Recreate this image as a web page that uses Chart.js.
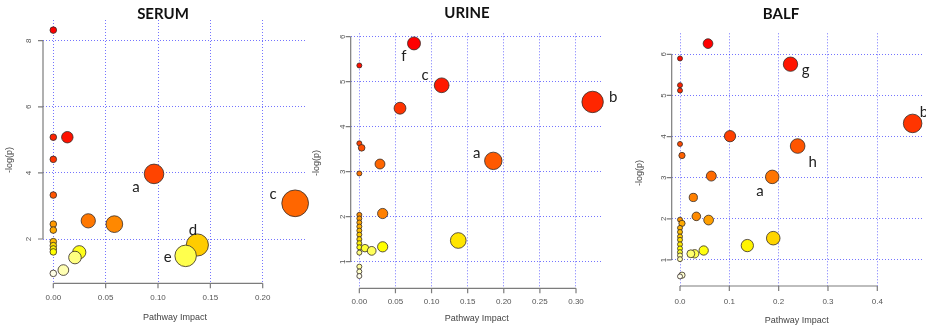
<!DOCTYPE html>
<html>
<head>
<meta charset="utf-8">
<script src="https://cdn.jsdelivr.net/npm/chart.js@4.4.1/dist/chart.umd.min.js"></script>
<style>
  html, body { margin: 0; padding: 0; background: #fff; }
  #wrap { position: relative; width: 926px; height: 331px; overflow: hidden; background: #fff; }
  #wrap canvas { position: absolute; top: 0; }
</style>
</head>
<body>
<div id="wrap">
  <canvas id="serum" width="310" height="331" style="left:0px"></canvas>
  <canvas id="urine" width="310" height="331" style="left:310px"></canvas>
  <canvas id="balf" width="306" height="331" style="left:620px"></canvas>
</div>
<script>
// ---- Pathway analysis results: impact (x) and -log(p) (y), ordered by p-value ----

// SERUM
const serumImpact = [0, 0.0134, 0, 0, 0.0962, 0, 0.231, 0.0334, 0.0583, 0, 0, 0,
  0.1376, 0, 0, 0, 0.0248, 0.1264, 0.0207, 0.0096, 0];
const serumLogP = [8.32, 5.08, 5.08, 4.41, 3.97, 3.33, 3.08, 2.55, 2.45, 2.45, 2.27, 1.92,
  1.82, 1.80, 1.70, 1.61, 1.60, 1.49, 1.44, 1.06, 0.96];
const serumTags = ['', '', '', '', 'a', '', 'c', '', '', '', '', '',
  'd', '', '', '', '', 'e', '', '', ''];
const serumXTicks = [0, 0.05, 0.10, 0.15, 0.20];
const serumXTickLabels = ['0.00', '0.05', '0.10', '0.15', '0.20'];
const serumYTicks = [2, 4, 6, 8];

// URINE
const urineImpact = [0.0757, 0, 0.114, 0.323, 0.0563, 0, 0.0032, 0.1855, 0.0286, 0,
  0.0323, 0, 0, 0, 0, 0, 0, 0, 0.137, 0, 0.0323, 0, 0.0078, 0.0171, 0, 0, 0, 0];
const urineLogP = [5.85, 5.36, 4.92, 4.55, 4.41, 3.63, 3.53, 3.24, 3.17, 2.96,
  2.07, 2.04, 1.96, 1.87, 1.78, 1.69, 1.60, 1.50, 1.47, 1.41, 1.33, 1.32, 1.30, 1.24, 1.20,
  0.89, 0.78, 0.68];
const urineTags = ['f', '', 'c', 'b', '', '', '', 'a', '', '',
  '', '', '', '', '', '', '', '', '', '', '', '', '', '', '', '', '', ''];
const urineXTicks = [0, 0.05, 0.10, 0.15, 0.20, 0.25, 0.30];
const urineXTickLabels = ['0.00', '0.05', '0.10', '0.15', '0.20', '0.25', '0.30'];
const urineYTicks = [1, 2, 3, 4, 5, 6];

// BALF
const balfImpact = [0.0568, 0, 0.224, 0, 0, 0.4716, 0.1014, 0, 0.2385, 0.004,
  0.0635, 0.187, 0.027, 0.0331, 0, 0.058, 0.004, 0, 0, 0, 0.189, 0, 0, 0.1365, 0,
  0.048, 0, 0.0297, 0.022, 0, 0, 0.004, 0];
const balfLogP = [6.26, 5.90, 5.76, 5.25, 5.12, 4.32, 4.01, 3.82, 3.77, 3.54,
  3.04, 3.02, 2.52, 2.06, 1.98, 1.97, 1.89, 1.78, 1.68, 1.57, 1.53, 1.49, 1.38, 1.35, 1.28,
  1.23, 1.19, 1.15, 1.15, 1.11, 1.02, 0.63, 0.60];
const balfTags = ['', '', 'g', '', '', 'b', '', '', 'h', '',
  '', 'a', '', '', '', '', '', '', '', '', '', '', '', '', '',
  '', '', '', '', '', '', '', ''];
const balfXTicks = [0, 0.1, 0.2, 0.3, 0.4];
const balfXTickLabels = ['0.0', '0.1', '0.2', '0.3', '0.4'];
const balfYTicks = [1, 2, 3, 4, 5, 6];

// ---- styling helpers ----
const AXIS_FONT = '"Liberation Sans", Arial, sans-serif';
const TITLE_FONT = 'Lato, "Open Sans", sans-serif';

function hsvToRgb(h, s, v) {
  const i = Math.floor(h * 6), f = h * 6 - i;
  const p = v * (1 - s), q = v * (1 - f * s), t = v * (1 - (1 - f) * s);
  let r, g, b;
  switch (((i % 6) + 6) % 6) {
    case 0: r = v; g = t; b = p; break;
    case 1: r = q; g = v; b = p; break;
    case 2: r = p; g = v; b = t; break;
    case 3: r = p; g = q; b = v; break;
    case 4: r = t; g = p; b = v; break;
    default: r = v; g = p; b = q;
  }
  return 'rgb(' + Math.round(r * 255) + ',' + Math.round(g * 255) + ',' + Math.round(b * 255) + ')';
}

// red -> yellow ramp, last quarter fading from yellow to white
function heatColors(n) {
  const j = Math.floor(n / 4), i = n - j, out = [];
  for (let k = 0; k < i; k++) out.push(hsvToRgb(i > 1 ? (k / (i - 1)) / 6 : 0, 1, 1));
  const s0 = 1 - 1 / (2 * j), s1 = 1 / (2 * j);
  for (let k = 0; k < j; k++) out.push(hsvToRgb(1 / 6, j > 1 ? s0 + k * (s1 - s0) / (j - 1) : 0.5, 1));
  return out;
}

// colour each pathway by its significance rank
function rankColors(logp) {
  const pal = heatColors(logp.length);
  const order = logp.map((v, i) => i).sort((a, b) => logp[b] - logp[a]);
  const out = new Array(logp.length);
  order.forEach((idx, r) => { out[idx] = pal[r]; });
  return out;
}

// axes, titles and pathway letters
function panelDecor(p) {
  return {
    id: 'panelDecor',
    beforeDatasetsDraw(chart) {
      const ctx = chart.ctx, xs = chart.scales.x, ys = chart.scales.y, a = chart.chartArea;
      ctx.save();
      ctx.strokeStyle = '#7c7c7c';
      ctx.lineWidth = 1.2;
      ctx.beginPath();
      const yA = ys.getPixelForValue(p.yTicks[0]);
      const yB = ys.getPixelForValue(p.yTicks[p.yTicks.length - 1]);
      ctx.moveTo(a.left, yA); ctx.lineTo(a.left, yB);
      p.yTicks.forEach(v => {
        const y = ys.getPixelForValue(v);
        ctx.moveTo(a.left, y); ctx.lineTo(a.left - 5, y);
      });
      const xA = xs.getPixelForValue(p.xTicks[0]);
      const xB = xs.getPixelForValue(p.xTicks[p.xTicks.length - 1]);
      ctx.moveTo(xA, a.bottom); ctx.lineTo(xB, a.bottom);
      p.xTicks.forEach(v => {
        const x = xs.getPixelForValue(v);
        ctx.moveTo(x, a.bottom); ctx.lineTo(x, a.bottom + 5);
      });
      ctx.stroke();

      ctx.fillStyle = '#555';
      ctx.font = '8px ' + AXIS_FONT;
      ctx.textAlign = 'center';
      ctx.textBaseline = 'middle';
      p.xTicks.forEach((v, i) => ctx.fillText(p.xTickLabels[i], xs.getPixelForValue(v), p.xLabelY));
      p.yTicks.forEach(v => {
        ctx.save();
        ctx.translate(p.yLabelX, ys.getPixelForValue(v));
        ctx.rotate(-Math.PI / 2);
        ctx.fillText(String(v), 0, 0);
        ctx.restore();
      });

      ctx.fillStyle = '#444';
      ctx.font = '9px ' + AXIS_FONT;
      ctx.fillText('Pathway Impact', p.xTitle[0], p.xTitle[1]);
      ctx.save();
      ctx.translate(p.yTitle[0], p.yTitle[1]);
      ctx.rotate(-Math.PI / 2);
      ctx.fillText('-log(p)', 0, 0);
      ctx.restore();

      ctx.fillStyle = '#111';
      ctx.font = 'bold 15px ' + TITLE_FONT;
      ctx.fillText(p.title, p.titlePos[0], p.titlePos[1]);
      ctx.restore();
    },
    afterDatasetsDraw(chart) {
      const ctx = chart.ctx, meta = chart.getDatasetMeta(0);
      ctx.save();
      ctx.fillStyle = '#222';
      ctx.font = '15px ' + TITLE_FONT;
      ctx.textAlign = 'center';
      ctx.textBaseline = 'middle';
      p.tags.forEach((t, i) => {
        if (!t) return;
        const el = meta.data[i], off = p.tagOffsets[t];
        ctx.fillText(t, el.x + off[0], el.y + off[1]);
      });
      ctx.restore();
    }
  };
}

function makePanel(id, p) {
  const canvas = document.getElementById(id);
  const W = canvas.width, H = canvas.height;
  // circle radius grows with the square root of the impact, measured in x-axis units
  const pxPerUnit = (p.area.r - p.area.l) / (p.xRange[1] - p.xRange[0]);
  const points = p.impact.map((x, i) => ({
    x: x,
    y: p.logp[i],
    r: p.dot + 0.02 * Math.sqrt(x) * pxPerUnit
  }));
  const gridStyle = { color: 'rgba(30,30,255,0.62)', lineWidth: 1, drawTicks: false };
  return new Chart(canvas, {
    type: 'bubble',
    data: {
      datasets: [{
        data: points,
        backgroundColor: rankColors(p.logp),
        borderColor: 'rgba(55,45,40,0.9)',
        borderWidth: 0.9,
        clip: false
      }]
    },
    options: {
      responsive: false,
      animation: false,
      events: [],
      layout: {
        autoPadding: false,
        padding: { left: p.area.l, top: p.area.t, right: W - p.area.r, bottom: H - p.area.b }
      },
      plugins: { legend: { display: false }, tooltip: { enabled: false }, title: { display: false } },
      scales: {
        x: {
          type: 'linear', min: p.xRange[0], max: p.xRange[1],
          grid: gridStyle,
          border: { display: false, dash: [1, 2] },
          ticks: { display: false },
          afterBuildTicks(s) { s.ticks = p.xTicks.map(v => ({ value: v })); }
        },
        y: {
          type: 'linear', min: p.yRange[0], max: p.yRange[1],
          grid: gridStyle,
          border: { display: false, dash: [1, 2] },
          ticks: { display: false },
          afterBuildTicks(s) { s.ticks = p.yTicks.map(v => ({ value: v })); }
        }
      }
    },
    plugins: [panelDecor(p)]
  });
}

makePanel('serum', {
  title: 'SERUM', impact: serumImpact, logp: serumLogP, tags: serumTags,
  xTicks: serumXTicks, xTickLabels: serumXTickLabels, yTicks: serumYTicks,
  xRange: [-0.00984, 0.2404], yRange: [0.66, 8.626],
  area: { l: 43, r: 305, t: 20, b: 283.3 },
  dot: 3.3,
  xLabelY: 297.7, yLabelX: 29, xTitle: [175, 318], yTitle: [10, 160], titlePos: [163, 14],
  tagOffsets: { a: [-18, 13], c: [-22, -9.6], d: [-4.5, -15.3], e: [-18, 1.5] }
});

makePanel('urine', {
  title: 'URINE', impact: urineImpact, logp: urineLogP, tags: urineTags,
  xTicks: urineXTicks, xTickLabels: urineXTickLabels, yTicks: urineYTicks,
  xRange: [-0.01195, 0.336], yRange: [0.408, 6.075],
  area: { l: 40.7, r: 292, t: 33.3, b: 288.3 },
  dot: 2.5,
  xLabelY: 301.7, yLabelX: 33, xTitle: [166.7, 319], yTitle: [6.7, 163], titlePos: [157, 13.3],
  tagOffsets: { f: [-10, 12.6], c: [-16.7, -10.3], b: [20.7, -5.2], a: [-16.6, -8.2] }
});

makePanel('balf', {
  title: 'BALF', impact: balfImpact, logp: balfLogP, tags: balfTags,
  xTicks: balfXTicks, xTickLabels: balfXTickLabels, yTicks: balfYTicks,
  xRange: [-0.01683, 0.4906], yRange: [0.367, 6.511],
  area: { l: 51.7, r: 302, t: 33.3, b: 286 },
  dot: 2.5,
  xLabelY: 301.7, yLabelX: 43.3, xTitle: [176.7, 320.7], yTitle: [20, 173], titlePos: [161, 14],
  tagOffsets: { g: [15.2, 5.8], h: [15, 16.2], a: [-12.2, 13.8], b: [11.4, -11.1] }
});
</script>
</body>
</html>
